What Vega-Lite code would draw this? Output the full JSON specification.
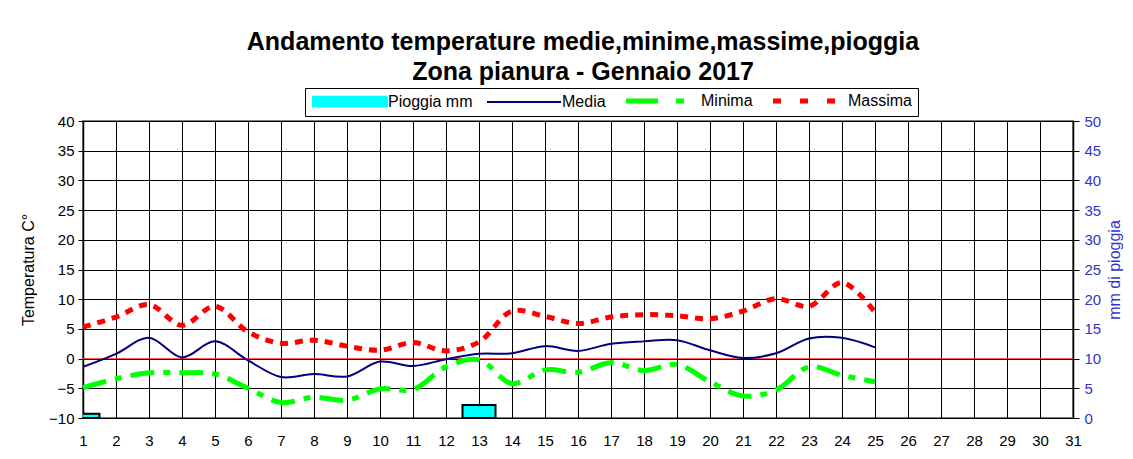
{
  "$schema": "https://vega.github.io/schema/vega-lite/v6.json",
  "autosize": {"type": "none"},
  "width": 990,
  "height": 297,
  "padding": {"left": 83, "top": 121, "right": 60, "bottom": 41},
  "background": "white",
  "title": {
    "text": ["Andamento temperature medie,minime,massime,pioggia", "Zona pianura - Gennaio 2017"],
    "font": "Liberation Sans",
    "fontSize": 25,
    "fontWeight": "bold",
    "lineHeight": 30,
    "anchor": "middle",
    "frame": "group",
    "offset": 3,
    "dx": 5,
    "color": "#000000"
  },
  "config": {
    "font": "Liberation Sans",
    "view": {"stroke": "#808080", "strokeWidth": 2},
    "axis": {
      "labelFont": "Liberation Sans",
      "titleFont": "Liberation Sans",
      "labelFontSize": 15,
      "titleFontSize": 16,
      "titleFontWeight": "normal",
      "labelColor": "#000000",
      "titleColor": "#000000"
    },
    "legend": {
      "orient": "none", "legendX": 222, "legendY": -33, "direction": "horizontal",
      "strokeColor": "#000000", "fillColor": "#FFFFFF", "padding": 5,
      "labelFont": "Liberation Sans", "labelFontSize": 16, "labelColor": "#000000",
      "symbolSize": 100, "symbolOffset": 32, "labelOffset": 30, "columnPadding": 10,
      "symbolType": "stroke"
    }
  },
  "datasets": {
    "pioggia": [
      {"giorno": 1, "mm": 0.7, "serie": "Pioggia mm"},
      {"giorno": 13, "mm": 2.2, "serie": "Pioggia mm"}
    ],
    "temp": [
      {"giorno": 1, "serie": "Media", "t": -1.4},
      {"giorno": 2, "serie": "Media", "t": 0.8},
      {"giorno": 3, "serie": "Media", "t": 3.5},
      {"giorno": 4, "serie": "Media", "t": 0.2},
      {"giorno": 5, "serie": "Media", "t": 2.9},
      {"giorno": 6, "serie": "Media", "t": -0.3},
      {"giorno": 7, "serie": "Media", "t": -3.1},
      {"giorno": 8, "serie": "Media", "t": -2.6},
      {"giorno": 9, "serie": "Media", "t": -3.0},
      {"giorno": 10, "serie": "Media", "t": -0.5},
      {"giorno": 11, "serie": "Media", "t": -1.25},
      {"giorno": 12, "serie": "Media", "t": -0.1},
      {"giorno": 13, "serie": "Media", "t": 0.8},
      {"giorno": 14, "serie": "Media", "t": 0.9},
      {"giorno": 15, "serie": "Media", "t": 2.1},
      {"giorno": 16, "serie": "Media", "t": 1.3},
      {"giorno": 17, "serie": "Media", "t": 2.5},
      {"giorno": 18, "serie": "Media", "t": 2.9},
      {"giorno": 19, "serie": "Media", "t": 3.1},
      {"giorno": 20, "serie": "Media", "t": 1.4},
      {"giorno": 21, "serie": "Media", "t": 0.1},
      {"giorno": 22, "serie": "Media", "t": 0.9},
      {"giorno": 23, "serie": "Media", "t": 3.4},
      {"giorno": 24, "serie": "Media", "t": 3.5},
      {"giorno": 25, "serie": "Media", "t": 1.9},
      {"giorno": 1, "serie": "Minima", "t": -4.9},
      {"giorno": 2, "serie": "Minima", "t": -3.4},
      {"giorno": 3, "serie": "Minima", "t": -2.4},
      {"giorno": 4, "serie": "Minima", "t": -2.4},
      {"giorno": 5, "serie": "Minima", "t": -2.6},
      {"giorno": 6, "serie": "Minima", "t": -5.0},
      {"giorno": 7, "serie": "Minima", "t": -7.4},
      {"giorno": 8, "serie": "Minima", "t": -6.5},
      {"giorno": 9, "serie": "Minima", "t": -7.0},
      {"giorno": 10, "serie": "Minima", "t": -5.1},
      {"giorno": 11, "serie": "Minima", "t": -5.2},
      {"giorno": 12, "serie": "Minima", "t": -1.4},
      {"giorno": 13, "serie": "Minima", "t": -0.2},
      {"giorno": 14, "serie": "Minima", "t": -4.2},
      {"giorno": 15, "serie": "Minima", "t": -1.9},
      {"giorno": 16, "serie": "Minima", "t": -2.3},
      {"giorno": 17, "serie": "Minima", "t": -0.7},
      {"giorno": 18, "serie": "Minima", "t": -2.0},
      {"giorno": 19, "serie": "Minima", "t": -1.0},
      {"giorno": 20, "serie": "Minima", "t": -3.9},
      {"giorno": 21, "serie": "Minima", "t": -6.3},
      {"giorno": 22, "serie": "Minima", "t": -5.3},
      {"giorno": 23, "serie": "Minima", "t": -1.4},
      {"giorno": 24, "serie": "Minima", "t": -2.8},
      {"giorno": 25, "serie": "Minima", "t": -3.9},
      {"giorno": 1, "serie": "Massima", "t": 5.3},
      {"giorno": 2, "serie": "Massima", "t": 7.0},
      {"giorno": 3, "serie": "Massima", "t": 9.1},
      {"giorno": 4, "serie": "Massima", "t": 5.6},
      {"giorno": 5, "serie": "Massima", "t": 8.8},
      {"giorno": 6, "serie": "Massima", "t": 4.5},
      {"giorno": 7, "serie": "Massima", "t": 2.6},
      {"giorno": 8, "serie": "Massima", "t": 3.1},
      {"giorno": 9, "serie": "Massima", "t": 2.1},
      {"giorno": 10, "serie": "Massima", "t": 1.4},
      {"giorno": 11, "serie": "Massima", "t": 2.7},
      {"giorno": 12, "serie": "Massima", "t": 1.3},
      {"giorno": 13, "serie": "Massima", "t": 2.8},
      {"giorno": 14, "serie": "Massima", "t": 8.0},
      {"giorno": 15, "serie": "Massima", "t": 7.1},
      {"giorno": 16, "serie": "Massima", "t": 5.9},
      {"giorno": 17, "serie": "Massima", "t": 7.0},
      {"giorno": 18, "serie": "Massima", "t": 7.4},
      {"giorno": 19, "serie": "Massima", "t": 7.2},
      {"giorno": 20, "serie": "Massima", "t": 6.7},
      {"giorno": 21, "serie": "Massima", "t": 8.0},
      {"giorno": 22, "serie": "Massima", "t": 10.1},
      {"giorno": 23, "serie": "Massima", "t": 8.8},
      {"giorno": 24, "serie": "Massima", "t": 12.8},
      {"giorno": 25, "serie": "Massima", "t": 7.8}
    ]
  },
  "layer": [
    {
      "data": {"name": "pioggia"},
      "mark": {"type": "bar", "size": 33, "clip": true, "stroke": "#000000", "strokeWidth": 2},
      "encoding": {
        "x": {
          "field": "giorno", "type": "quantitative",
          "scale": {"domain": [1, 31], "nice": false, "zero": false, "padding": 0},
          "axis": {"values": [1,2,3,4,5,6,7,8,9,10,11,12,13,14,15,16,17,18,19,20,21,22,23,24,25,26,27,28,29,30,31], "format": "d", "title": null, "grid": true, "gridColor": "#000000", "gridOpacity": 1, "gridWidth": 1, "ticks": false, "domain": false, "labelPadding": 15, "labelFlush": false}
        },
        "y": {
          "field": "mm", "type": "quantitative",
          "scale": {"domain": [0, 50], "nice": false, "zero": true},
          "axis": {"orient": "right", "title": "mm di pioggia", "titleAngle": 270, "values": [0,5,10,15,20,25,30,35,40,45,50], "grid": false, "labelColor": "#3333CC", "titleColor": "#3333CC", "domainColor": "#000000", "domainWidth": 1.5, "tickColor": "#000000", "tickSize": 6, "labelPadding": 5, "titlePadding": 22}
        },
        "color": {
          "field": "serie", "type": "nominal",
          "scale": {"domain": ["Pioggia mm", "Media", "Minima", "Massima"], "range": ["#00FFFF", "#000080", "#00FF00", "#FF0000"]},
          "legend": {
            "title": null,
            "encode": {
              "symbols": {
                "update": {
                  "shape": {"signal": "datum.value === 'Pioggia mm' ? 'M-1,-0.13H1V0.13H-1Z' : 'stroke'"},
                  "size": {"value": 5476},
                  "fill": {"signal": "datum.value === 'Pioggia mm' ? '#00FFFF' : 'transparent'"},
                  "stroke": {"signal": "datum.value === 'Pioggia mm' ? '#000000' : datum.value === 'Media' ? '#000080' : datum.value === 'Minima' ? '#00FF00' : '#FF0000'"},
                  "strokeWidth": {"signal": "datum.value === 'Minima' || datum.value === 'Massima' ? 5 : 2"},
                  "strokeDash": {"signal": "datum.value === 'Minima' ? [32,18,8,20] : datum.value === 'Massima' ? [8,19] : [1,0]"},
                  "opacity": {"value": 1},
                  "fillOpacity": {"value": 1},
                  "strokeOpacity": {"value": 1}
                }
              }
            }
          }
        }
      }
    },
    {
      "layer": [
        {
          "data": {"values": [{}]},
          "mark": {"type": "rule", "color": "#FF4040", "strokeWidth": 1},
          "encoding": {
            "y": {"datum": 0, "type": "quantitative", "scale": {"domain": [-10, 40], "nice": false, "zero": false},
              "axis": {"title": "Temperatura C°", "values": [-10,-5,0,5,10,15,20,25,30,35,40], "grid": true, "gridColor": "#000000", "gridOpacity": 1, "gridWidth": 1, "domainColor": "#000000", "domainWidth": 1.5, "tickColor": "#000000", "tickSize": 5, "labelPadding": 4, "titlePadding": 12}}
          }
        },
        {
          "data": {"name": "temp"},
          "transform": [{"filter": "datum.serie === 'Media'"}],
          "mark": {"type": "line", "interpolate": "catmull-rom", "strokeWidth": 2, "clip": true},
          "encoding": {
            "x": {"field": "giorno", "type": "quantitative", "scale": {"domain": [1, 31], "nice": false, "zero": false, "padding": 0},
              "axis": {"values": [1,2,3,4,5,6,7,8,9,10,11,12,13,14,15,16,17,18,19,20,21,22,23,24,25,26,27,28,29,30,31], "format": "d", "title": null, "grid": true, "gridColor": "#000000", "gridOpacity": 1, "gridWidth": 1, "ticks": false, "domain": false, "labelPadding": 15, "labelFlush": false}},
            "y": {"field": "t", "type": "quantitative", "scale": {"domain": [-10, 40], "nice": false, "zero": false},
              "axis": {"title": "Temperatura C°", "values": [-10,-5,0,5,10,15,20,25,30,35,40], "grid": true, "gridColor": "#000000", "gridOpacity": 1, "gridWidth": 1, "domainColor": "#000000", "domainWidth": 1.5, "tickColor": "#000000", "tickSize": 5, "labelPadding": 4, "titlePadding": 12}},
            "color": {"field": "serie", "type": "nominal",
              "legend": {
                "title": null,
                "encode": {
                  "symbols": {
                    "update": {
                      "shape": {"signal": "datum.value === 'Pioggia mm' ? 'M-1,-0.13H1V0.13H-1Z' : 'stroke'"},
                      "size": {"value": 5476},
                      "fill": {"signal": "datum.value === 'Pioggia mm' ? '#00FFFF' : 'transparent'"},
                      "stroke": {"signal": "datum.value === 'Pioggia mm' ? '#000000' : datum.value === 'Media' ? '#000080' : datum.value === 'Minima' ? '#00FF00' : '#FF0000'"},
                      "strokeWidth": {"signal": "datum.value === 'Minima' || datum.value === 'Massima' ? 5 : 2"},
                      "strokeDash": {"signal": "datum.value === 'Minima' ? [32,18,8,20] : datum.value === 'Massima' ? [8,19] : [1,0]"},
                      "opacity": {"value": 1},
                      "fillOpacity": {"value": 1},
                      "strokeOpacity": {"value": 1}
                    }
                  }
                }
              }
            }
          }
        },
        {
          "data": {"name": "temp"},
          "transform": [{"filter": "datum.serie === 'Minima'"}],
          "mark": {"type": "line", "interpolate": "catmull-rom", "strokeWidth": 5, "strokeDash": [24, 9, 7, 9], "strokeCap": "butt", "clip": true},
          "encoding": {
            "x": {"field": "giorno", "type": "quantitative", "scale": {"domain": [1, 31], "nice": false, "zero": false, "padding": 0},
              "axis": {"values": [1,2,3,4,5,6,7,8,9,10,11,12,13,14,15,16,17,18,19,20,21,22,23,24,25,26,27,28,29,30,31], "format": "d", "title": null, "grid": true, "gridColor": "#000000", "gridOpacity": 1, "gridWidth": 1, "ticks": false, "domain": false, "labelPadding": 15, "labelFlush": false}},
            "y": {"field": "t", "type": "quantitative", "scale": {"domain": [-10, 40], "nice": false, "zero": false},
              "axis": {"title": "Temperatura C°", "values": [-10,-5,0,5,10,15,20,25,30,35,40], "grid": true, "gridColor": "#000000", "gridOpacity": 1, "gridWidth": 1, "domainColor": "#000000", "domainWidth": 1.5, "tickColor": "#000000", "tickSize": 5, "labelPadding": 4, "titlePadding": 12}},
            "color": {"field": "serie", "type": "nominal",
              "legend": {
                "title": null,
                "encode": {
                  "symbols": {
                    "update": {
                      "shape": {"signal": "datum.value === 'Pioggia mm' ? 'M-1,-0.13H1V0.13H-1Z' : 'stroke'"},
                      "size": {"value": 5476},
                      "fill": {"signal": "datum.value === 'Pioggia mm' ? '#00FFFF' : 'transparent'"},
                      "stroke": {"signal": "datum.value === 'Pioggia mm' ? '#000000' : datum.value === 'Media' ? '#000080' : datum.value === 'Minima' ? '#00FF00' : '#FF0000'"},
                      "strokeWidth": {"signal": "datum.value === 'Minima' || datum.value === 'Massima' ? 5 : 2"},
                      "strokeDash": {"signal": "datum.value === 'Minima' ? [32,18,8,20] : datum.value === 'Massima' ? [8,19] : [1,0]"},
                      "opacity": {"value": 1},
                      "fillOpacity": {"value": 1},
                      "strokeOpacity": {"value": 1}
                    }
                  }
                }
              }
            }
          }
        },
        {
          "data": {"name": "temp"},
          "transform": [{"filter": "datum.serie === 'Massima'"}],
          "mark": {"type": "line", "interpolate": "catmull-rom", "strokeWidth": 5, "strokeDash": [8, 7], "strokeCap": "butt", "clip": true},
          "encoding": {
            "x": {"field": "giorno", "type": "quantitative", "scale": {"domain": [1, 31], "nice": false, "zero": false, "padding": 0},
              "axis": {"values": [1,2,3,4,5,6,7,8,9,10,11,12,13,14,15,16,17,18,19,20,21,22,23,24,25,26,27,28,29,30,31], "format": "d", "title": null, "grid": true, "gridColor": "#000000", "gridOpacity": 1, "gridWidth": 1, "ticks": false, "domain": false, "labelPadding": 15, "labelFlush": false}},
            "y": {"field": "t", "type": "quantitative", "scale": {"domain": [-10, 40], "nice": false, "zero": false},
              "axis": {"title": "Temperatura C°", "values": [-10,-5,0,5,10,15,20,25,30,35,40], "grid": true, "gridColor": "#000000", "gridOpacity": 1, "gridWidth": 1, "domainColor": "#000000", "domainWidth": 1.5, "tickColor": "#000000", "tickSize": 5, "labelPadding": 4, "titlePadding": 12}},
            "color": {"field": "serie", "type": "nominal",
              "legend": {
                "title": null,
                "encode": {
                  "symbols": {
                    "update": {
                      "shape": {"signal": "datum.value === 'Pioggia mm' ? 'M-1,-0.13H1V0.13H-1Z' : 'stroke'"},
                      "size": {"value": 5476},
                      "fill": {"signal": "datum.value === 'Pioggia mm' ? '#00FFFF' : 'transparent'"},
                      "stroke": {"signal": "datum.value === 'Pioggia mm' ? '#000000' : datum.value === 'Media' ? '#000080' : datum.value === 'Minima' ? '#00FF00' : '#FF0000'"},
                      "strokeWidth": {"signal": "datum.value === 'Minima' || datum.value === 'Massima' ? 5 : 2"},
                      "strokeDash": {"signal": "datum.value === 'Minima' ? [32,18,8,20] : datum.value === 'Massima' ? [8,19] : [1,0]"},
                      "opacity": {"value": 1},
                      "fillOpacity": {"value": 1},
                      "strokeOpacity": {"value": 1}
                    }
                  }
                }
              }
            }
          }
        }
      ]
    }
  ],
  "resolve": {"scale": {"y": "independent"}}
}
